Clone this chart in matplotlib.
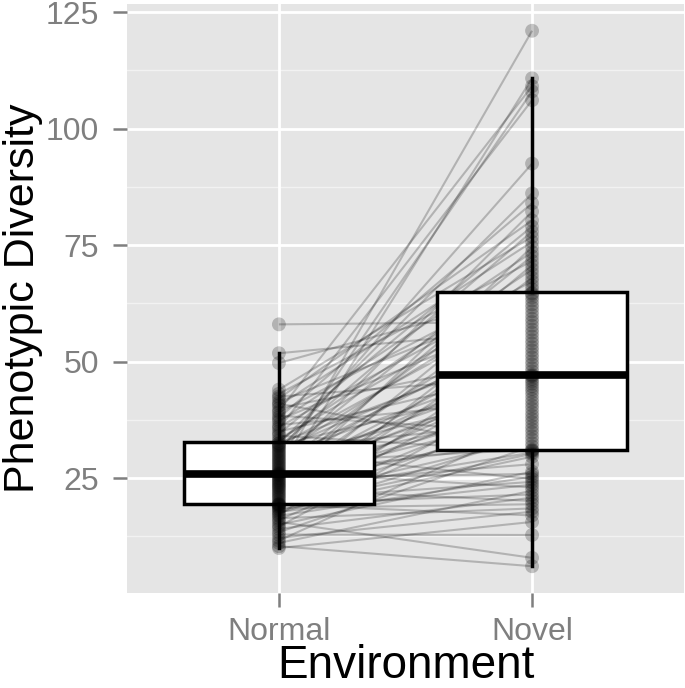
import numpy as np
import matplotlib
matplotlib.use("Agg")
import matplotlib.pyplot as plt

# paired measurements: normal[i] <-> novel[i]
categories = ["Normal", "Novel"]
normal = [10.0, 10.4, 11.1, 11.6, 12.2, 12.9, 13.4, 14.1, 14.6, 15.0,
          15.6, 16.0, 16.4, 16.9, 17.1, 17.5, 17.8, 18.1, 18.4, 18.6,
          18.9, 19.0, 19.2, 19.3, 19.4, 19.5, 19.8, 20.1, 20.5, 20.8,
          21.1, 21.4, 21.7, 22.0, 22.3, 22.6, 22.9, 23.1, 23.4, 23.6,
          23.9, 24.1, 24.4, 24.6, 24.9, 25.1, 25.4, 25.6, 25.8, 25.9,
          26.1, 26.3, 26.6, 26.9, 27.2, 27.5, 27.8, 28.1, 28.4, 28.7,
          29.0, 29.3, 29.6, 29.9, 30.2, 30.5, 30.8, 31.1, 31.4, 31.7,
          31.9, 32.1, 32.4, 32.5, 33.0, 33.4, 34.1, 34.5, 35.0, 35.6,
          36.0, 36.4, 37.1, 37.5, 38.0, 38.4, 39.1, 39.4, 40.0, 40.6,
          41.0, 41.4, 42.1, 42.5, 43.1, 44.0, 49.7, 51.8, 58.0]
novel = [15.6, 6.1, 22.3, 36.2, 17.8, 12.8, 31.8, 20.8, 44.1, 26.4,
         7.9, 39.9, 18.5, 25.3, 52.4, 34.0, 23.6, 29.6, 47.0, 19.4,
         60.8, 30.2, 41.3, 17.0, 55.4, 21.5, 37.7, 48.6, 24.2, 33.3,
         57.7, 42.8, 30.5, 66.3, 45.8, 20.1, 35.5, 51.6, 74.6, 28.0,
         40.6, 62.3, 38.4, 110.8, 46.3, 25.9, 53.9, 70.7, 32.5, 44.7,
         50.1, 23.0, 121.0, 59.2, 39.1, 68.0, 47.2, 82.2, 31.1, 56.2,
         108.0, 43.5, 72.6, 49.4, 63.8, 24.8, 92.5, 54.6, 37.0, 77.9,
         61.6, 45.3, 86.1, 53.1, 69.8, 64.4, 30.8, 79.0, 47.9, 106.1,
         65.5, 42.0, 73.5, 60.0, 84.0, 34.8, 67.2, 109.1, 50.9, 75.7,
         30.95, 63.1, 80.3, 46.8, 71.6, 76.8, 64.7, 56.9, 58.5, 68.9]
yticks = [25, 50, 75, 100, 125]

normal = np.array(normal)
novel = np.array(novel)

plt.rcParams['font.family'] = ['Liberation Sans', 'DejaVu Sans']

fig = plt.figure(figsize=(6.85, 6.88), dpi=100)
ax = fig.add_axes([0.1854, 0.1381, 0.8131, 0.8561])
ax.set_facecolor('#E5E5E5')

# grid (ggplot-like)
allv = np.concatenate([normal, novel])
lo = allv.min() - 0.05 * (allv.max() - allv.min())
hi = allv.max() + 0.05 * (allv.max() - allv.min())
for y in yticks:
    ax.axhline(y, color='white', lw=2.0, zorder=0)
for y in np.arange(12.5, 126, 25):
    ax.axhline(y, color='#F2F2F2', lw=1.0, zorder=0)
for x in (1, 2):
    ax.axvline(x, color='white', lw=2.0, zorder=0)

# paired lines
xs = np.array([1, 2])
for a, b in zip(normal, novel):
    ax.plot(xs, [a, b], color='black', alpha=0.22, lw=1.5, zorder=1,
            solid_capstyle='butt')

# boxes
ax.boxplot([normal, novel], positions=[1, 2], widths=0.75, whis=1.5,
           showfliers=False, patch_artist=True, showcaps=False,
           boxprops=dict(facecolor='white', edgecolor='black', linewidth=2.5),
           whiskerprops=dict(color='black', linewidth=2.5),
           medianprops=dict(color='black', linewidth=5.5, solid_capstyle='butt'),
           zorder=2)

# points
ax.scatter(np.full(len(normal), 1), normal, s=100, color='black', alpha=0.22,
           edgecolors='none', zorder=3)
ax.scatter(np.full(len(novel), 2), novel, s=100, color='black', alpha=0.22,
           edgecolors='none', zorder=3)

ax.set_xlim(0.4, 2.6)
ax.set_ylim(lo, hi)
ax.set_xticks([1, 2])
ax.set_xticklabels(categories)
ax.set_yticks(yticks)
ax.set_yticklabels([str(v) for v in yticks])
ax.tick_params(axis='both', colors='#7F7F7F', labelsize=23, length=10,
               width=1.8)
ax.tick_params(axis='y', pad=10)
ax.tick_params(axis='x', pad=7)
for s in ax.spines.values():
    s.set_visible(False)

ax.set_xlabel('Environment', fontsize=33, labelpad=-2)
ax.set_ylabel('Phenotypic Diversity', fontsize=31, labelpad=2)

fig.savefig('out.png', dpi=100, facecolor='white')
